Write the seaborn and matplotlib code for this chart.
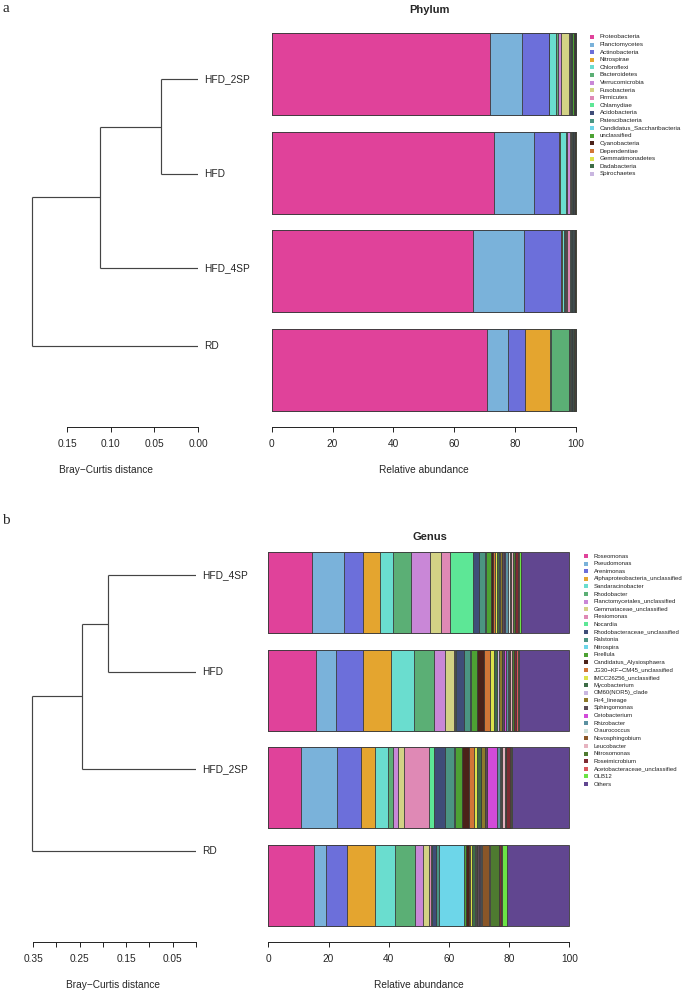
import numpy as np
import pandas as pd
import matplotlib
matplotlib.use("Agg")
import matplotlib.pyplot as plt
import seaborn as sns

# ---- data -------------------------------------------------------------
phylum_taxa = ["Proteobacteria", "Planctomycetes", "Actinobacteria", "Nitrospirae",
               "Chloroflexi", "Bacteroidetes", "Verrucomicrobia", "Fusobacteria",
               "Firmicutes", "Chlamydiae", "Acidobacteria", "Patescibacteria",
               "Candidatus_Saccharibacteria", "unclassified", "Cyanobacteria",
               "Dependentiae", "Gemmatimonadetes", "Dadabacteria", "Spirochaetes"]
phylum_samples = ["HFD_2SP", "HFD", "HFD_4SP", "RD"]
phylum_hfd_2sp = [71.8, 10.4, 8.8, 0.2, 2.3, 0.5, 1.2, 2.4, 0.4, 0.2, 0.3, 0.2, 0.1, 0.4, 0.4, 0.1, 0.1, 0.1, 0.1]
phylum_hfd = [73.2, 13.1, 8.0, 0.3, 2.2, 0.3, 1.0, 0.1, 0.3, 0.2, 0.3, 0.1, 0.1, 0.2, 0.3, 0.1, 0.1, 0.1, 0.0]
phylum_hfd_4sp = [66.0, 16.8, 12.3, 0.2, 0.7, 0.4, 0.3, 0.2, 1.0, 0.5, 0.4, 0.2, 0.2, 0.3, 0.2, 0.1, 0.1, 0.1, 0.0]
phylum_rd = [70.7, 7.1, 5.5, 8.0, 0.6, 5.7, 0.2, 0.1, 0.2, 0.1, 0.4, 0.2, 0.1, 0.3, 0.3, 0.1, 0.2, 0.2, 0.0]
phylum_colors = ["#E0429A", "#7AB2DA", "#6C6FDA", "#E4A52F", "#6ADDCF", "#5BAF75",
                 "#C987D7", "#D3D285", "#DF89B5", "#5DE796", "#3F4D78", "#4B9582",
                 "#6DD6E9", "#4DA233", "#4B2219", "#D27637", "#DCE34B", "#3D6C46",
                 "#C9B6E0"]
phylum_leaves = ["HFD_2SP", "HFD", "HFD_4SP", "RD"]
phylum_merge_heights = [0.042, 0.112, 0.190]
phylum_dist_ticks = [0.15, 0.10, 0.05, 0.00]
phylum_dist_labels = ["0.15", "0.10", "0.05", "0.00"]

genus_taxa = ["Roseomonas", "Pseudomonas", "Arenimonas", "Alphaproteobacteria_unclassified",
              "Sandaracinobacter", "Rhodobacter", "Planctomycetales_unclassified",
              "Gemmataceae_unclassified", "Plesiomonas", "Nocardia",
              "Rhodobacteraceae_unclassified", "Ralstonia", "Nitrospira", "Pirellula",
              "Candidatus_Alysiosphaera", "JG30\u2212KF\u2212CM45_unclassified",
              "IMCC26256_unclassified", "Mycobacterium", "OM60(NOR5)_clade", "Pir4_lineage",
              "Sphingomonas", "Cetobacterium", "Rhizobacter", "Craurococcus",
              "Novosphingobium", "Leucobacter", "Nitrosomonas", "Roseimicrobium",
              "Acetobacteraceae_unclassified", "OLB12", "Others"]
genus_samples = ["HFD_4SP", "HFD", "HFD_2SP", "RD"]
genus_hfd_4sp = [14.6, 10.6, 6.4, 5.5, 4.4, 5.8, 6.3, 3.9, 2.9, 7.6, 2.0, 2.0, 0.3, 1.7,
                 0.8, 0.6, 0.6, 0.5, 0.5, 0.5, 0.8, 0.5, 0.8, 0.6, 0.5, 0.6, 0.6, 0.9,
                 0.6, 0.4, 16.2]
genus_hfd = [15.8, 6.6, 8.8, 9.2, 7.4, 6.7, 3.6, 3.0, 0.3, 0.2, 2.9, 2.0, 0.1, 1.9,
             2.4, 2.0, 1.3, 1.1, 0.6, 0.9, 0.8, 0.5, 0.6, 0.5, 0.4, 0.5, 0.6, 0.8,
             0.6, 0.3, 16.6]
genus_hfd_2sp = [11.0, 12.0, 7.9, 4.8, 4.2, 1.6, 1.6, 2.0, 8.4, 1.9, 3.6, 3.0, 0.3, 2.2,
                 2.3, 1.7, 1.1, 1.2, 0.3, 1.2, 0.8, 3.1, 1.0, 0.3, 0.4, 1.0, 0.4, 1.3,
                 0.5, 0.2, 19.1]
genus_rd = [15.3, 3.9, 6.8, 9.5, 6.6, 6.6, 2.6, 2.2, 0.4, 0.4, 1.4, 0.9, 8.3, 0.8,
            1.0, 0.4, 0.5, 1.0, 0.3, 0.4, 0.8, 0.2, 0.3, 0.3, 2.5, 0.3, 3.0, 0.7,
            0.2, 1.6, 20.8]
genus_colors = phylum_colors + ["#8D7A2B", "#5A4C57", "#D24BD9", "#5B91A1", "#CFE2DD",
                                "#8A5628", "#E6B3C0", "#4E7A30", "#7E2B32", "#D9585C",
                                "#6BE245", "#614690"]
genus_leaves = ["HFD_4SP", "HFD", "HFD_2SP", "RD"]
genus_merge_heights = [0.189, 0.245, 0.352]
genus_dist_ticks = [0.35, 0.30, 0.25, 0.20, 0.15, 0.10, 0.05, 0.00]
genus_dist_labels = ["0.35", "", "0.25", "", "0.15", "", "0.05", ""]

abundance_ticks = [0, 20, 40, 60, 80, 100]

# ---- layout helpers ---------------------------------------------------
W, H = 685, 992
EDGE = "#3a3a3a"
sns.set_style("white")
plt.rcParams["font.family"] = ["Liberation Sans", "DejaVu Sans"]

fig = plt.figure(figsize=(W / 100, H / 100), dpi=100)


def px_axes(left, top, right, bottom):
    return fig.add_axes([left / W, 1 - bottom / H, (right - left) / W, (bottom - top) / H])


def px_text(x, y, s, **kw):
    fig.text(x / W, 1 - y / H, s, ha="center", va="center", **kw)


def r_axis(ax, ticks, labels):
    # R style bottom axis: detached line, ticks pointing down
    for side in ["left", "right", "top"]:
        ax.spines[side].set_visible(False)
    ax.spines["bottom"].set_position(("outward", 11.5))
    ax.spines["bottom"].set_bounds(min(ticks), max(ticks))
    ax.spines["bottom"].set_linewidth(0.7)
    ax.spines["bottom"].set_color("#222222")
    ax.set_xticks(ticks)
    ax.set_xticklabels(labels, fontsize=7.3)
    ax.tick_params(axis="x", direction="out", length=3.6, width=0.7,
                   color="#222222", pad=5, bottom=True)
    ax.set_yticks([])
    ax.set_ylabel("")
    ax.set_xlabel("")


def stacked_bars(ax, samples, rows, colors):
    table = np.array(rows, dtype=float)
    table = table / table.sum(axis=1, keepdims=True) * 100
    cum = np.cumsum(table, axis=1)
    for j in reversed(range(table.shape[1])):
        sns.barplot(x=cum[:, j], y=samples, order=samples, orient="h",
                    color=colors[j], saturation=1, width=1 / 1.2,
                    edgecolor=EDGE, linewidth=0.6, errorbar=None, ax=ax)
    for p in ax.patches:
        p.set_clip_on(False)
    ax.set_xlim(0, 100)
    ax.set_ylim(len(samples) - 1 + 0.5 / 1.2, -0.5 / 1.2)
    r_axis(ax, abundance_ticks, [str(t) for t in abundance_ticks])


def dendrogram(ax, leaf_y, heights, labels):
    kw = dict(color="#444444", lw=0.85, solid_capstyle="butt")
    cur_y, cur_x = leaf_y[0], 0.0
    for k, h in enumerate(heights):
        other = leaf_y[k + 1]
        ax.plot([cur_x, h], [cur_y, cur_y], **kw)
        ax.plot([0, h], [other, other], **kw)
        ax.plot([h, h], [cur_y, other], **kw)
        cur_y, cur_x = (cur_y + other) / 2, h
    for y, lab in zip(leaf_y, labels):
        ax.annotate(lab, (0, y), xytext=(4.5, 0), textcoords="offset points",
                    ha="left", va="center", fontsize=7.3, annotation_clip=False)


def legend_block(marker_x, top, taxa, colors, size, step=7.6):
    n = len(taxa)
    left = marker_x - 6
    ax = px_axes(left, top - step / 2, 685, top + (n - 0.5) * step)
    ax.set_xlim(left, 685)
    ax.set_ylim(n - 0.5, -0.5)
    ax.scatter([marker_x] * n, range(n), marker="s", s=9, c=colors, linewidths=0)
    for i, t in enumerate(taxa):
        ax.text(marker_x + 7.5, i, t, fontsize=size, va="center", ha="left",
                color="#222222")
    ax.axis("off")


# ---- panel a : phylum -------------------------------------------------
ax_bar_a = px_axes(271.7, 33, 576, 411)
phylum_table = [phylum_hfd_2sp, phylum_hfd, phylum_hfd_4sp, phylum_rd]
stacked_bars(ax_bar_a, phylum_samples, phylum_table, phylum_colors)

ax_den_a = px_axes(20, 33, 198, 411)
ax_den_a.set_ylim(411, 33)
ax_den_a.set_xlim(0.2038, 0)
dendrogram(ax_den_a, [79, 174, 268, 346], phylum_merge_heights, phylum_leaves)
r_axis(ax_den_a, phylum_dist_ticks, phylum_dist_labels)

legend_block(592, 37, phylum_taxa, phylum_colors, 4.5)

px_text(6, 9, "a", fontsize=11, family="Liberation Serif")
px_text(430, 10, "Phylum", fontsize=8, fontweight="bold")
px_text(424, 470, "Relative abundance", fontsize=7.3)
px_text(106, 470, "Bray\u2212Curtis distance", fontsize=7.3)

# ---- panel b : genus --------------------------------------------------
ax_bar_b = px_axes(268.3, 552, 569.3, 926)
genus_table = [genus_hfd_4sp, genus_hfd, genus_hfd_2sp, genus_rd]
stacked_bars(ax_bar_b, genus_samples, genus_table, genus_colors)

ax_den_b = px_axes(20, 552, 196, 926)
ax_den_b.set_ylim(926, 552)
ax_den_b.set_xlim(0.378, 0)
dendrogram(ax_den_b, [575, 672, 769, 851], genus_merge_heights, genus_leaves)
r_axis(ax_den_b, genus_dist_ticks, genus_dist_labels)

legend_block(586, 556, genus_taxa, genus_colors, 4.3)

px_text(6, 520, "b", fontsize=11, family="Liberation Serif")
px_text(430, 537, "Genus", fontsize=8, fontweight="bold")
px_text(419, 985, "Relative abundance", fontsize=7.3)
px_text(113, 985, "Bray\u2212Curtis distance", fontsize=7.3)

fig.savefig("out.png", dpi=100, facecolor="white")
